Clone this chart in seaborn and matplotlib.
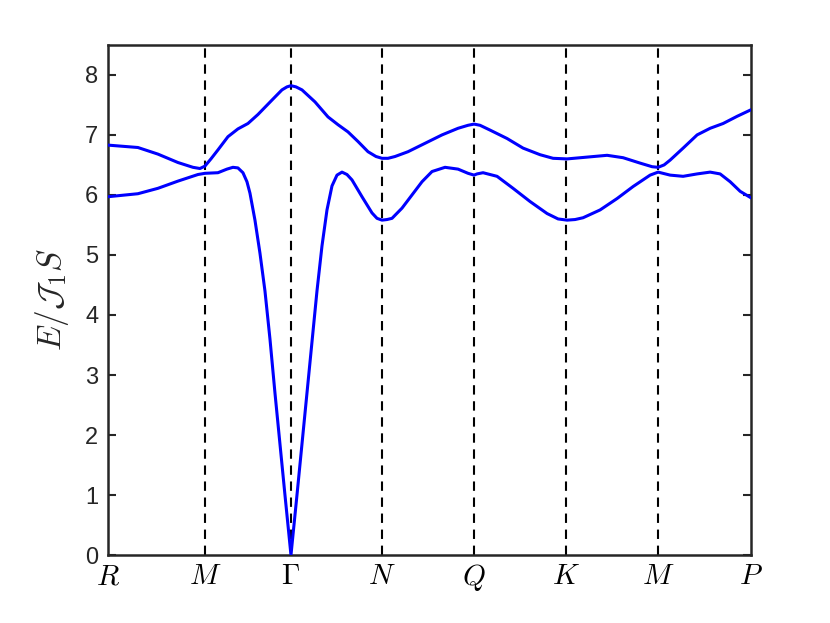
import matplotlib
matplotlib.use('Agg')
import matplotlib.pyplot as plt
import seaborn as sns
import numpy as np
import pandas as pd

# path coordinate (arbitrary length units) and symmetry points
sym_k = [0.00, 0.97, 1.83, 2.74, 3.66, 4.58, 5.50, 6.43]
sym_labels = ['$R$', '$M$', r'$\Gamma$', '$N$', '$Q$', '$K$', '$M$', '$P$']

# upper band
k_up = [0.00, 0.30, 0.50, 0.70, 0.85, 0.92, 0.97, 1.03, 1.10, 1.20, 1.30,
        1.40, 1.50, 1.64, 1.74, 1.79, 1.83, 1.88, 1.94, 2.07, 2.20, 2.30,
        2.40, 2.50, 2.60, 2.68, 2.74, 2.80, 2.87, 3.00, 3.17, 3.34, 3.50,
        3.60, 3.66, 3.72, 3.82, 3.99, 4.15, 4.32, 4.45, 4.59, 4.79, 4.99,
        5.15, 5.32, 5.44, 5.50, 5.56, 5.62, 5.75, 5.89, 6.02, 6.15, 6.29,
        6.43]
e_up = [6.83, 6.79, 6.68, 6.54, 6.46, 6.44, 6.48, 6.60, 6.75, 6.97, 7.10,
        7.19, 7.34, 7.58, 7.75, 7.80, 7.82, 7.80, 7.75, 7.55, 7.30, 7.17,
        7.05, 6.89, 6.72, 6.64, 6.61, 6.61, 6.64, 6.72, 6.86, 7.00, 7.11,
        7.16, 7.18, 7.16, 7.08, 6.94, 6.78, 6.67, 6.61, 6.60, 6.63, 6.66,
        6.62, 6.53, 6.47, 6.46, 6.50, 6.58, 6.78, 7.00, 7.11, 7.19, 7.31,
        7.42]

# lower band
k_lo = [0.00, 0.30, 0.50, 0.70, 0.90, 0.97, 1.10, 1.19, 1.25, 1.30, 1.35,
        1.39, 1.42, 1.47, 1.52, 1.57, 1.62, 1.67, 1.72, 1.77, 1.83, 1.89,
        1.94, 1.99, 2.04, 2.09, 2.14, 2.19, 2.24, 2.29, 2.34, 2.39, 2.44,
        2.54, 2.64, 2.69, 2.74, 2.79, 2.84, 2.94, 3.04, 3.14, 3.24, 3.37,
        3.50, 3.60, 3.66, 3.69, 3.75, 3.89, 4.05, 4.22, 4.39, 4.50, 4.59,
        4.67, 4.75, 4.92, 5.09, 5.25, 5.42, 5.50, 5.62, 5.75, 5.89, 6.02,
        6.12, 6.22, 6.32, 6.43]
e_lo = [5.97, 6.02, 6.11, 6.23, 6.34, 6.36, 6.37, 6.43, 6.46, 6.45, 6.37,
        6.22, 6.03, 5.58, 5.03, 4.40, 3.60, 2.70, 1.85, 1.00, 0.00, 1.00,
        1.85, 2.70, 3.55, 4.40, 5.15, 5.75, 6.15, 6.33, 6.38, 6.34, 6.25,
        5.97, 5.70, 5.61, 5.58, 5.59, 5.61, 5.78, 6.00, 6.22, 6.39, 6.46,
        6.43, 6.36, 6.33, 6.35, 6.37, 6.31, 6.11, 5.89, 5.69, 5.60, 5.58,
        5.59, 5.62, 5.75, 5.94, 6.14, 6.33, 6.38, 6.33, 6.31, 6.35, 6.38,
        6.35, 6.22, 6.06, 5.95]

df = pd.concat([
    pd.DataFrame({'k': k_up, 'E': e_up, 'band': 'upper'}),
    pd.DataFrame({'k': k_lo, 'E': e_lo, 'band': 'lower'}),
])

sns.set_style('ticks')
plt.rcParams['font.family'] = ['Liberation Sans', 'DejaVu Sans']
plt.rcParams['mathtext.fontset'] = 'cm'

fig = plt.figure(figsize=(8.3, 6.23), dpi=100)
ax = fig.add_axes([0.130, 0.109, 0.775, 0.819])

for kk in sym_k[1:-1]:
    ax.axvline(kk, color='black', lw=1.5, ls=(0, (4.5, 3.2)), zorder=1)

sns.lineplot(data=df, x='k', y='E', units='band', estimator=None,
             color='#0000ff', lw=2.2, sort=False, ax=ax, zorder=3)

ax.set_xlim(sym_k[0], sym_k[-1])
ax.set_ylim(0, 8.5)
ax.set_xticks(sym_k)
ax.set_xticklabels(sym_labels, fontsize=21)
ax.set_yticks(range(0, 9))
ax.set_xlabel('')
ax.set_ylabel(r'$E/\mathcal{J}_1 S$', fontsize=24, color='#262626', labelpad=10)

ax.tick_params(axis='y', direction='in', length=6, width=1.5, left=True,
               right=True, labelsize=17, colors='#262626', pad=7)
ax.tick_params(axis='x', direction='in', length=0, pad=5, colors='black')
for s in ax.spines.values():
    s.set_linewidth(1.8)
    s.set_color('#262626')
    s.set_visible(True)

fig.savefig('out.png')
